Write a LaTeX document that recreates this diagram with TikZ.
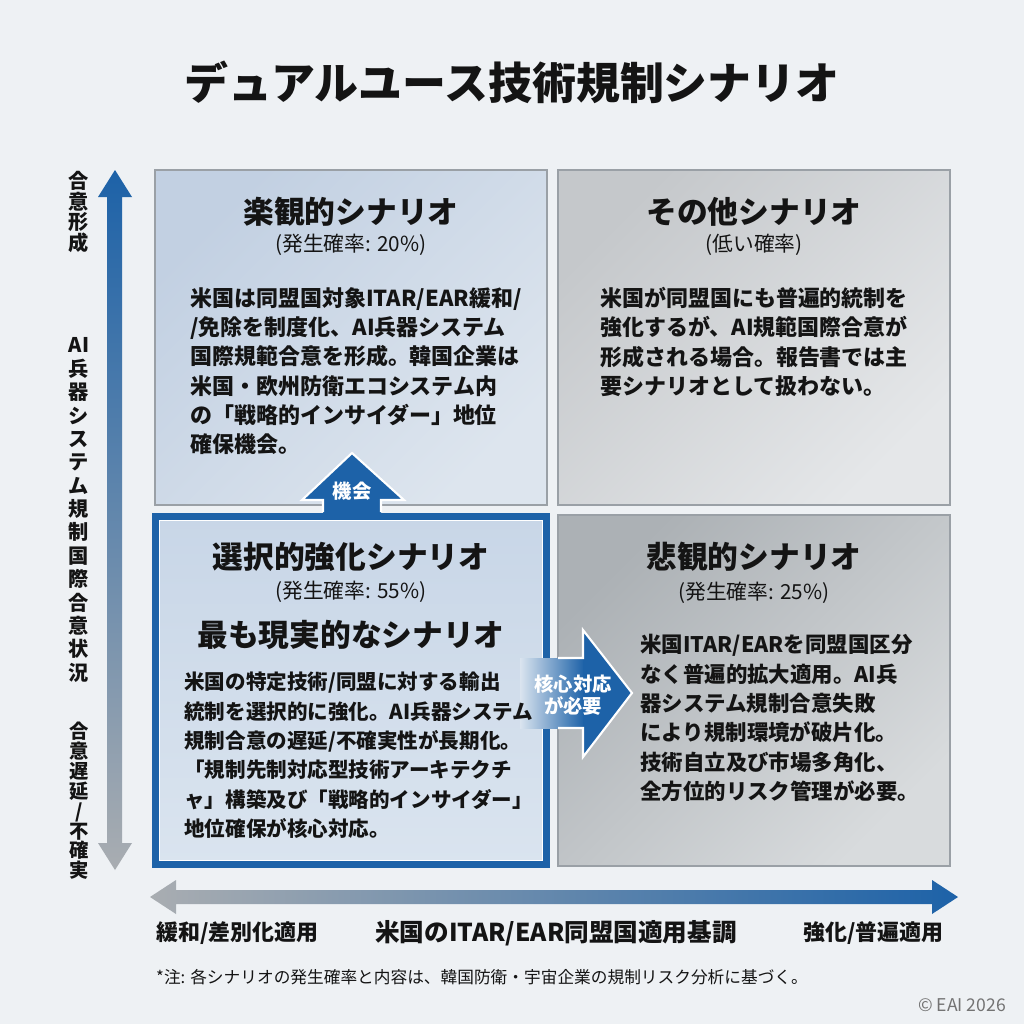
\documentclass[tikz,border=0pt]{standalone}
\usepackage{fontspec}
\setmainfont{Noto Sans CJK JP}
\usetikzlibrary{positioning}

\definecolor{bgcol}{HTML}{EEF1F4}
\definecolor{axisblue}{HTML}{1D62A8}
\definecolor{axisgray}{HTML}{A9ADB1}
\definecolor{boxline}{HTML}{9AA0A6}
\definecolor{inkblack}{HTML}{141414}
\definecolor{optdark}{HTML}{C2D0E2}
\definecolor{optlight}{HTML}{DDE5EE}
\definecolor{othdark}{HTML}{C5C8CB}
\definecolor{othlight}{HTML}{E5E7E9}
\definecolor{seldark}{HTML}{C8D6E7}
\definecolor{sellight}{HTML}{DAE4EF}
\definecolor{pesdark}{HTML}{ACB1B5}
\definecolor{peslight}{HTML}{D8DBDD}

\begin{document}
\begin{tikzpicture}[x=0.02cm, y=-0.02cm,
	box/.style={draw=boxline, line width=0.8pt, rectangle, minimum width=7.84cm},
	boxtitle/.style={font=\fontsize{17.5}{21}\selectfont\bfseries, text=inkblack},
	probtext/.style={font=\fontsize{11.8}{14}\selectfont, text=inkblack},
	bodytext/.style={font=\fontsize{12.2}{16.7}\selectfont\bfseries, align=left, anchor=north west, inner sep=0pt, text=inkblack},
	vlabel/.style={align=center, inner sep=0pt, text=inkblack},
	axislabel/.style={font=\fontsize{12.5}{15}\selectfont\bfseries, text=inkblack}]

				% Background
				\fill[bgcol] (0,0) rectangle (1024,1024);
				\useasboundingbox (0,0) rectangle (1024,1024);

				% Title
				\node[font=\fontsize{25}{30}\selectfont\bfseries, text=inkblack] (title) at (512,82) {デュアルユース技術規制シナリオ};

				% Quadrant boxes
				\node[box, minimum height=6.7cm, top color=optdark, bottom color=optlight, shading angle=45] (opt) at (351,337.5) {};
				\node[box, minimum height=6.7cm, top color=othdark, bottom color=othlight, shading angle=45] (other) at (754,337.5) {};
				\node[box, minimum height=7.02cm, top color=pesdark, bottom color=peslight, shading angle=45] (pess) at (754,690.5) {};

				% Opportunity arrow
				\fill[axisblue] (323,516) -- (323,500) -- (302,500) -- (352,453) -- (404,500) -- (381,500) -- (381,516) -- cycle;
				\draw[white, line width=1.2pt] (323,512) -- (323,500) -- (302,500) -- (352,453) -- (404,500) -- (381,500) -- (381,512);
				\node[font=\fontsize{11}{13}\selectfont\bfseries, text=white] (chance) at (352,491) {機会};

				% Selective box
				\node[box, draw=axisblue, line width=4pt, minimum height=6.98cm, top color=seldark, bottom color=sellight] (sel) at (351,690.5) {};
				\draw[white, line width=0.6pt] ([shift={(8,8)}]sel.north west) rectangle ([shift={(-8,-8)}]sel.south east);

				% Core response arrow
				\shade[left color=sellight, right color=axisblue] (520,658) rectangle (584,728);
				\fill[axisblue] (583,630) -- (632,693) -- (583,757) -- cycle;
				\draw[white, line width=1.2pt] (558,658) -- (583,658) -- (583,630) -- (632,693) -- (583,757) -- (583,728) -- (558,728);
				\node[font=\fontsize{11}{12.5}\selectfont\bfseries, text=white, align=center] (core) at (573,695) {核心対応\\が必要};

				% Optimistic scenario
				\node[boxtitle] (optTitle) at (351,212) {楽観的シナリオ};
				\node[probtext] (optProb) at (351,245) {(発生確率: 20\%)};
				\node[bodytext, font=\fontsize{12.5}{16.7}\selectfont\bfseries] (optBody) at (190,287) {米国は同盟国対象ITAR/EAR緩和/\\/免除を制度化、AI兵器システム\\国際規範合意を形成。韓国企業は\\米国・欧州防衛エコシステム内\\の「戦略的インサイダー」地位\\確保機会。};

				% Other scenario
				\node[boxtitle] (otherTitle) at (754,212) {その他シナリオ};
				\node[probtext] (otherProb) at (754,245) {(低い確率)};
				\node[bodytext, font=\fontsize{12.5}{16.7}\selectfont\bfseries] (otherBody) at (600,287) {米国が同盟国にも普遍的統制を\\強化するが、AI規範国際合意が\\形成される場合。報告書では主\\要シナリオとして扱わない。};

				% Selective scenario
				\node[boxtitle] (selTitle) at (351,557) {選択的強化シナリオ};
				\node[probtext] (selProb) at (351,592) {(発生確率: 55\%)};
				\node[boxtitle] (selReal) at (351,635) {最も現実的なシナリオ};
				\node[bodytext, font=\fontsize{11.7}{16.7}\selectfont\bfseries] (selBody) at (184,672) {米国の特定技術/同盟に対する輸出\\統制を選択的に強化。AI兵器システム\\規制合意の遅延/不確実性が長期化。\\「規制先制対応型技術アーキテクチ\\ャ」構築及び「戦略的インサイダー」\\地位確保が核心対応。};

				% Pessimistic scenario
				\node[boxtitle] (pessTitle) at (754,557) {悲観的シナリオ};
				\node[probtext] (pessProb) at (754,593) {(発生確率: 25\%)};
				\node[bodytext] (pessBody) at (640,634) {米国ITAR/EARを同盟国区分\\なく普遍的拡大適用。AI兵\\器システム規制合意失敗\\により規制環境が破片化。\\技術自立及び市場多角化、\\全方位的リスク管理が必要。};

				% Vertical axis
				\shade[top color=axisblue, bottom color=axisgray] (115,170) -- (132,197) -- (122,197) -- (122,843) -- (132,843) -- (115,870) -- (98,843) -- (107,843) -- (107,197) -- (98,197) -- cycle;
				\node[vlabel, font=\fontsize{11.5}{11.8}\selectfont\bfseries] (yTop) at (79,212) {合\\意\\形\\成};
				\node[vlabel, font=\fontsize{11.5}{13.3}\selectfont\bfseries] (yName) at (79,510) {AI\\兵\\器\\シ\\ス\\テ\\ム\\規\\制\\国\\際\\合\\意\\状\\況};
				\node[vlabel, font=\fontsize{11}{11.3}\selectfont\bfseries] (yBottom) at (79,801) {合\\意\\遅\\延\\/\\不\\確\\実};

				% Horizontal axis
				\shade[left color=axisgray, right color=axisblue] (150,897) -- (176,880) -- (176,890) -- (932,890) -- (932,880) -- (958,897) -- (932,914) -- (932,904) -- (176,904) -- (176,914) -- cycle;
				\node[axislabel, anchor=west] (xLeft) at (150,933) {緩和/差別化適用};
				\node[axislabel, font=\fontsize{14}{17}\selectfont\bfseries] (xName) at (556,933) {米国のITAR/EAR同盟国適用基調};
				\node[axislabel, anchor=east] (xRight) at (950,933) {強化/普遍適用};

				% Note
				\node[anchor=west, font=\fontsize{9.5}{11}\selectfont, text=inkblack] (note) at (150,977) {*注: 各シナリオの発生確率と内容は、韓国防衛・宇宙企業の規制リスク分析に基づく。};
				\node[anchor=east, font=\fontsize{10}{12}\selectfont, text=black!55] (copy) at (1012,1005) {© EAI 2026};
\end{tikzpicture}
\end{document}
